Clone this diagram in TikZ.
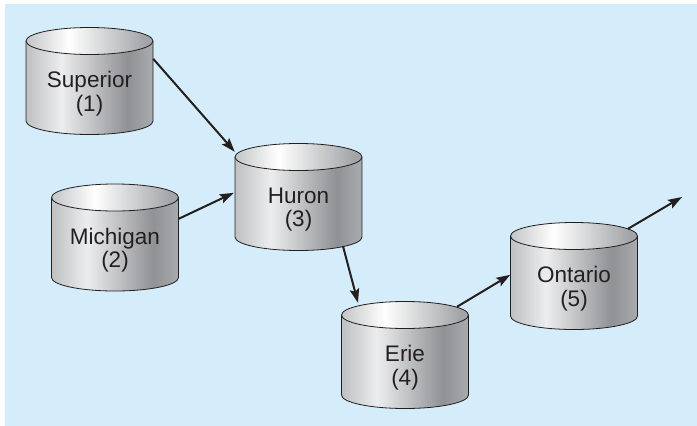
\documentclass[tikz,border=0pt]{standalone}
\usepackage{xcolor}
\usepackage{fontspec}
\setmainfont{Liberation Sans}
\usepackage{tikz}
\usetikzlibrary{calc,positioning,arrows.meta}
\definecolor{bgblue}{HTML}{D5EDFA}
\definecolor{inkcol}{HTML}{231F20}
\definecolor{bodyA}{HTML}{BFC0C2}
\definecolor{bodyB}{HTML}{ECEDEE}
\definecolor{bodyC}{HTML}{8F9194}
\definecolor{bodyD}{HTML}{A9ABAE}
\definecolor{topA}{HTML}{C4C5C7}
\definecolor{topB}{HTML}{FFFFFF}
\definecolor{topC}{HTML}{A2A4A7}
\pgfdeclarehorizontalshading{lakebodyshade}{100bp}{color(0bp)=(bodyA); color(25bp)=(bodyA);
  color(39bp)=(bodyB); color(65bp)=(bodyC); color(75bp)=(bodyD); color(100bp)=(bodyD)}
\pgfdeclarehorizontalshading{laketopshade}{100bp}{color(0bp)=(topA); color(25bp)=(topA);
  color(42bp)=(topB); color(72bp)=(topC); color(75bp)=(topC); color(100bp)=(topC)}
\tikzset{
  lakebody/.style={shading=lakebodyshade,draw=inkcol,line width=0.8pt},
  laketop/.style={shading=laketopshade,draw=inkcol,line width=0.8pt},
  lakebox/.style={rectangle,minimum width=127pt,minimum height=107pt,inner sep=0pt},
  lakelabel/.style={align=center,text=inkcol,yshift=-12.5pt,
    font=\fontsize{22.5}{23.5}\selectfont},
  flow/.style={draw=inkcol,line width=2pt,-{Stealth[length=14pt,width=9.5pt,inset=2.5pt]}},
}
\begin{document}
\begin{tikzpicture}[x=1pt,y=1pt]
  \useasboundingbox (0,0) rectangle (697,-426);
  \fill[bgblue] (5,-4) rectangle (697,-426);
  % the lakes
  \foreach \nm/\cx/\cy/\txt in {sup/89.5/41/{Superior\\(1)},
      mic/115/197.5/{Michigan\\(2)}, hur/298.5/157/{Huron\\(3)},
      eri/405/315/{Erie\\(4)}, ont/574/236/{Ontario\\(5)}} {
    \shadedraw[lakebody] (\cx-63.5,-\cy) -- ++(0,-80)
      arc[start angle=180,end angle=360,x radius=63.5,y radius=13.5] -- ++(0,80);
    \shadedraw[laketop] (\cx,-\cy) ellipse[x radius=63.5,y radius=13.5];
    \node[lakebox,label={[lakelabel]center:\txt}] (\nm) at (\cx,-\cy-40) {};
  }
  % flows
  \draw[flow] ([yshift=-31.5pt]sup.north east) -- ([yshift=-8.5pt]hur.north west);
  \draw[flow] ([yshift=-35pt]mic.north east) -- ([xshift=-1pt,yshift=-49.5pt]hur.north west);
  \draw[flow] ([xshift=44.5pt,yshift=4.5pt]hur.south) -- ([xshift=-47pt,yshift=-1.5pt]eri.north);
  \draw[flow] ([xshift=52pt,yshift=-5.5pt]eri.north) -- ([yshift=-52.5pt]ont.north west);
  \coordinate (out) at (682,-197);
  \draw[flow] ([xshift=54pt,yshift=-6.5pt]ont.north) -- (out);
\end{tikzpicture}
\end{document}
